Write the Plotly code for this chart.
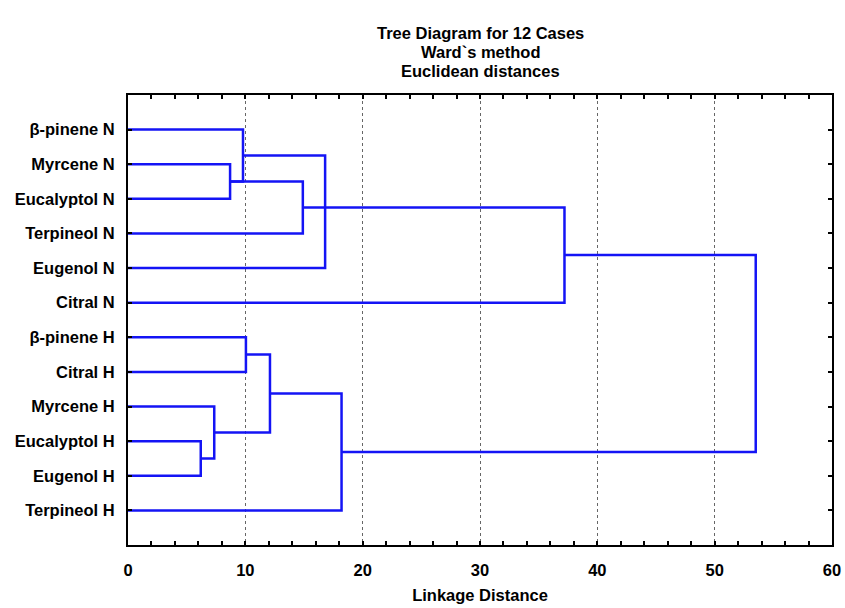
import plotly.graph_objects as go

# Leaf order (top to bottom)
labels = ["β-pinene N", "Myrcene N", "Eucalyptol N", "Terpineol N", "Eugenol N", "Citral N",
          "β-pinene H", "Citral H", "Myrcene H", "Eucalyptol H", "Eugenol H", "Terpineol H"]

# Merges: (left node, right node, linkage distance); nodes >= 12 are earlier merges
merge_left = [1, 0, 12, 13, 14, 9, 8, 6, 18, 20, 16]
merge_right = [2, 12, 3, 4, 5, 10, 17, 7, 19, 11, 21]
merge_dist = [8.7, 9.8, 14.9, 16.8, 37.2, 6.2, 7.35, 10.05, 12.1, 18.2, 53.5]

title_lines = ["Tree Diagram for 12 Cases", "Ward`s method", "Euclidean distances"]

n = len(labels)
pos = {i: (0.0, float(i)) for i in range(n)}  # node -> (x, y)
xs, ys = [], []
for k, (a, b, d) in enumerate(zip(merge_left, merge_right, merge_dist)):
    xa, ya = pos[a]
    xb, yb = pos[b]
    xs += [xa, d, d, xb, None]
    ys += [ya, ya, yb, yb, None]
    pos[n + k] = (d, (ya + yb) / 2)

fig = go.Figure()
fig.add_trace(go.Scatter(x=xs, y=ys, mode="lines",
                         line=dict(color="#1414F5", width=2.5),
                         hoverinfo="skip", showlegend=False))

font = "Liberation Sans, Arial, sans-serif"
W, H = 845, 608
fs = 16.5
fig.update_layout(
    width=W, height=H,
    margin=dict(l=128, r=13, t=95, b=63, autoexpand=False),
    paper_bgcolor="white", plot_bgcolor="white",
    font=dict(family=font, size=fs, color="black"),
)
for i, (t, yc) in enumerate(zip(title_lines, [33, 52, 71])):
    fig.add_annotation(text="<b>" + t + "</b>", xref="paper", yref="paper",
                       x=0.5, y=1 + (95 - yc) / (H - 95 - 63),
                       xanchor="center", yanchor="middle", showarrow=False,
                       font=dict(family=font, size=fs, color="black"))

fig.update_xaxes(
    range=[0, 60], dtick=10, tick0=0,
    showgrid=True, gridcolor="#666666", griddash="dot", gridwidth=1,
    zeroline=False, automargin=False,
    showline=True, linecolor="black", linewidth=2, mirror="ticks",
    ticks="inside", ticklen=4, tickwidth=1.5, tickcolor="black",
    minor=dict(dtick=2, ticks="inside", ticklen=4, tickwidth=1.5, tickcolor="black", showgrid=False),
    tickfont=dict(family=font, size=fs, color="black"),
    tickprefix="<b>", ticksuffix="</b>", ticklabelstandoff=9,
    title=dict(text="<b>Linkage Distance</b>", standoff=12,
               font=dict(family=font, size=fs, color="black")),
)
fig.update_yaxes(
    range=[n, -1],
    tickvals=list(range(n)), ticktext=["<b>" + t + "</b>" for t in labels],
    showgrid=False, zeroline=False, automargin=False,
    showline=True, linecolor="black", linewidth=2, mirror="ticks",
    ticks="inside", ticklen=4, tickwidth=1.5, tickcolor="black",
    tickfont=dict(family=font, size=fs, color="black"),
    ticklabelstandoff=8,
)

fig.write_html("out.html", config={"displayModeBar": False},
               post_script="document.body.style.margin='0';document.body.style.padding='0';")
